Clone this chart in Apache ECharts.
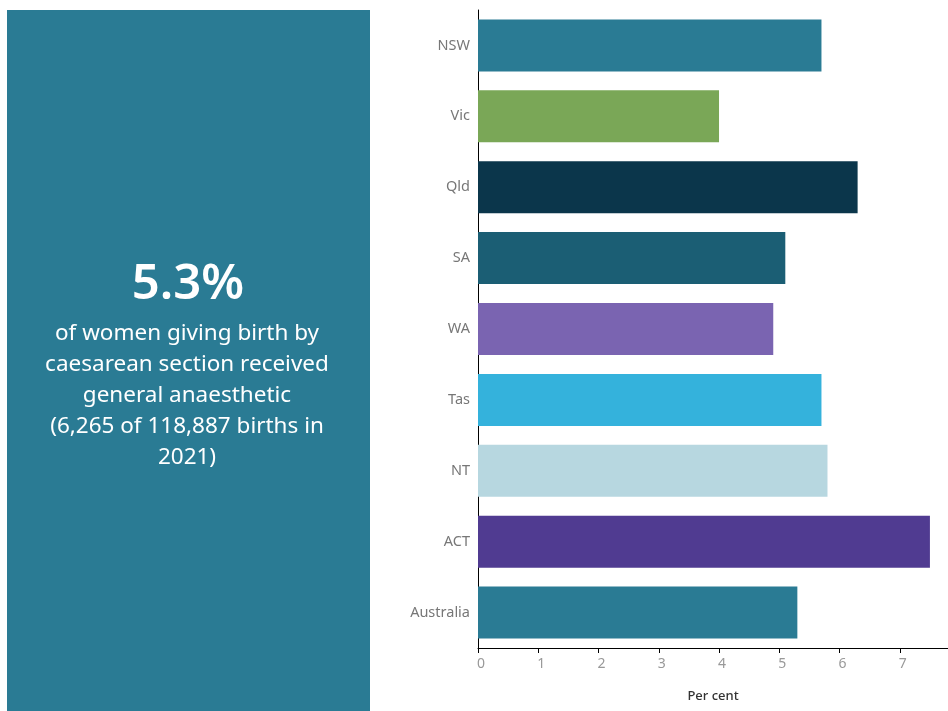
<!DOCTYPE html>
<html>
<head>
<meta charset="utf-8">
<script src="https://cdn.jsdelivr.net/npm/echarts@6/dist/echarts.min.js"></script>
<style>
  html, body { margin: 0; padding: 0; background: #fff; }
  #chart { width: 948px; height: 711px; }
</style>
</head>
<body>
<div id="chart"></div>
<script>
// data
var states = ['NSW', 'Vic', 'Qld', 'SA', 'WA', 'Tas', 'NT', 'ACT', 'Australia'];
var percent = [5.7, 4.0, 6.3, 5.1, 4.9, 5.7, 5.8, 7.5, 5.3];
var barColors = ['#2a7b94', '#7aa757', '#0b364b', '#1b5e74', '#7a64b1', '#34b2dc', '#b7d7e0', '#503b91', '#2a7b94'];
var xTicks = [0, 1, 2, 3, 4, 5, 6, 7];
var headline = '5.3%';
var blurb = ['of women giving birth by', 'caesarean section received', 'general anaesthetic', '(6,265 of 118,887 births in', '2021)'];

var myChart = echarts.init(document.getElementById('chart'));

myChart.setOption({
  animation: false,
  grid: { left: 478, right: 0, top: 10, bottom: 63, containLabel: false },
  graphic: [
    {
      type: 'rect',
      shape: { x: 7, y: 10, width: 363, height: 701 },
      style: { fill: '#2a7b94' },
      silent: true
    },
    {
      type: 'text',
      x: 188, y: 285,
      style: {
        text: headline,
        fill: '#ffffff',
        font: '600 49px "Noto Sans", sans-serif',
        align: 'center',
        verticalAlign: 'middle'
      }
    },
    {
      type: 'text',
      x: 187, y: 318,
      style: {
        text: blurb.join('\n'),
        fill: '#ffffff',
        font: '22.5px "Noto Sans", sans-serif',
        lineHeight: 31,
        align: 'center',
        verticalAlign: 'top'
      }
    }
  ],
  xAxis: {
    type: 'value',
    min: 0,
    max: 7.8,
    interval: 1,
    name: 'Per cent',
    nameLocation: 'middle',
    nameGap: 42,
    nameTextStyle: { color: '#333', fontSize: 13, fontWeight: 500, fontFamily: 'Noto Sans' },
    axisLine: { show: true, lineStyle: { color: '#000', width: 1 } },
    axisTick: { show: true, length: 5, lineStyle: { color: '#000' } },
    axisLabel: {
      color: '#999',
      fontSize: 14,
      fontFamily: 'Noto Sans',
      margin: 9,
      padding: [0, 0, 0, 6],
      showMaxLabel: false,
      formatter: function (v) { return xTicks.indexOf(v) >= 0 ? String(v) : ''; }
    },
    splitLine: { show: false }
  },
  yAxis: {
    type: 'category',
    inverse: true,
    data: states,
    axisLine: { show: true, lineStyle: { color: '#000', width: 1 } },
    axisTick: { show: false },
    axisLabel: { color: '#777', fontSize: 14.5, fontFamily: 'Noto Sans', margin: 8 }
  },
  series: [
    {
      type: 'bar',
      barWidth: 52,
      data: percent.map(function (v, i) {
        return { value: v, itemStyle: { color: barColors[i] } };
      })
    }
  ]
});
</script>
</body>
</html>
